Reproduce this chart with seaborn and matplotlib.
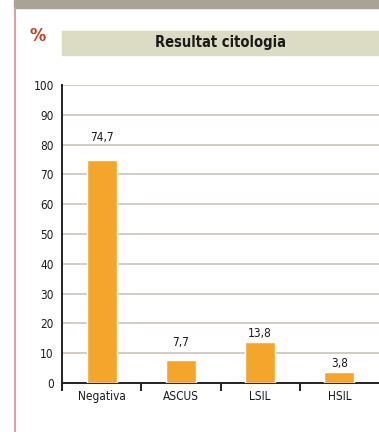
import matplotlib
matplotlib.use("Agg")
import matplotlib.pyplot as plt
from matplotlib.patches import Rectangle
from matplotlib.lines import Line2D
import seaborn as sns
import pandas as pd

categories = ["Negativa", "ASCUS", "LSIL", "HSIL"]
values = [74.7, 7.7, 13.8, 3.8]
value_labels = ["74,7", "7,7", "13,8", "3,8"]
yticks = [0, 10, 20, 30, 40, 50, 60, 70, 80, 90, 100]

sns.set_theme(style="white")
plt.rcParams["font.family"] = ["DejaVu Sans"]
plt.rcParams["font.stretch"] = "condensed"

W, H = 379, 432
fig = plt.figure(figsize=(W / 100, H / 100), dpi=100)
fig.patch.set_facecolor("white")

# header strip and left rule
fig.patches.append(Rectangle((14 / W, 1 - 8 / H), 1 - 14 / W, 8 / H,
                             transform=fig.transFigure, color="#a8a297", zorder=0))
fig.lines.append(Line2D([14.5 / W, 14.5 / W], [0, 1 - 8 / H],
                        transform=fig.transFigure, color="#d8a2a9", lw=1.5))

# title box
fig.patches.append(Rectangle((62 / W, 1 - 55 / H), 1 - 62 / W, 24 / H,
                             transform=fig.transFigure, color="#dcdcc5", zorder=0))
fig.text((62 + W) / 2 / W, 1 - 43 / H, "Resultat citologia", ha="center", va="center",
         fontsize=10.5, fontweight="bold", color="#1a1a1a")
fig.text(38 / W, 1 - 36 / H, "%", ha="center", va="center",
         fontsize=13, fontweight="bold", color="#c23b1e")

ax = fig.add_axes([62 / W, 1 - 383 / H, 1 - 62 / W, (383 - 85) / H])
df = pd.DataFrame({"cat": categories, "val": values})
sns.barplot(data=df, x="cat", y="val", ax=ax, color="#f4a62c", width=0.38,
            saturation=1, zorder=3)

ax.set_xlim(-0.5, 3.5)
ax.set_ylim(0, 100)
ax.set_yticks(yticks)
ax.set_yticklabels([str(t) for t in yticks], fontsize=8.5, color="#1a1a1a")
ax.yaxis.grid(True, color="#cdc9bf", lw=1.3, zorder=0)
ax.set_axisbelow(True)
ax.set_xlabel("")
ax.set_ylabel("")

for s in ["top", "right"]:
    ax.spines[s].set_visible(False)
for s in ["left", "bottom"]:
    ax.spines[s].set_color("#222222")
    ax.spines[s].set_linewidth(1.4)

ax.tick_params(axis="y", length=0, pad=6)
ax.tick_params(axis="x", which="major", length=0, pad=5, labelsize=8.5, labelcolor="#1a1a1a")
# separators between categories, below the baseline
ax.set_xticks([-0.5, 0.5, 1.5, 2.5], minor=True)
ax.tick_params(axis="x", which="minor", bottom=True, length=6, width=1.4,
               color="#222222", direction="out")

# value labels above bars
offsets = [12, 8, 1.5, 1.5]
for i, (v, lab) in enumerate(zip(values, value_labels)):
    ax.annotate(lab, (i, v), xytext=(0, offsets[i]), textcoords="offset points",
                ha="center", va="bottom", fontsize=8.5, color="#1a1a1a")

fig.savefig("out.png", dpi=100, facecolor="white")
